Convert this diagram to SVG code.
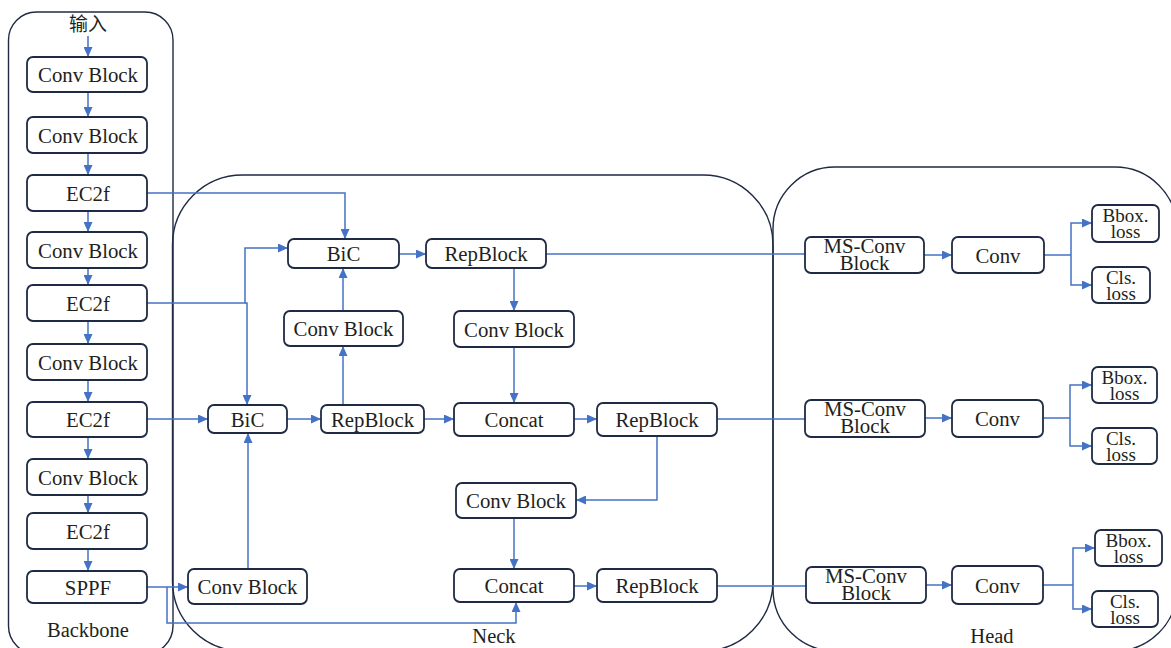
<svg xmlns="http://www.w3.org/2000/svg" width="1171" height="648" viewBox="0 0 1171 648">
<defs>
<marker id="ah" markerUnits="userSpaceOnUse" markerWidth="11" markerHeight="9" refX="10" refY="4.5" orient="auto">
<path d="M0,0 L10,4.5 L0,9 z" fill="#4472c4"/>
</marker>
<style>
.node rect{fill:#fff;stroke:#1f2a44;stroke-width:1.8}
.grp{fill:none;stroke:#1f2a44;stroke-width:1.4}
.c path{fill:none;stroke:#4472c4;stroke-width:1.5}
.c path.a{marker-end:url(#ah)}
.t2{font-size:19px}
</style>
</defs>
<rect width="1171" height="648" fill="#fff"/>
<g id="groups" font-family="'Liberation Serif', 'Times New Roman', 'Noto Sans CJK SC', serif" font-size="20.5" fill="#231f20" text-anchor="middle">
<rect class="grp" x="8.5" y="12" width="164.5" height="642" rx="28"/>
<rect class="grp" x="172.5" y="175" width="600.5" height="476" rx="70"/>
<rect class="grp" x="773" y="167" width="404" height="484" rx="62"/>
<text x="88" y="637">Backbone</text>
<text x="494" y="643">Neck</text>
<text x="992" y="643">Head</text>
<text x="88" y="31" font-size="19">输入</text>
</g>
<g class="c" id="connectors">
<path class="a" d="M88,36 V57"/>
<path class="a" d="M88,92 V117"/>
<path class="a" d="M88,153 V175"/>
<path class="a" d="M88,211 V232"/>
<path class="a" d="M88,268 V285"/>
<path class="a" d="M88,321 V344"/>
<path class="a" d="M88,380 V402"/>
<path class="a" d="M88,437 V459"/>
<path class="a" d="M88,495 V513"/>
<path class="a" d="M88,549 V571"/>
<path class="a" d="M147,193 H345 V239"/>
<path class="a" d="M147,303 H245 V248 H288"/>
<path class="a" d="M245,303 H247 V405"/>
<path class="a" d="M147,419 H208"/>
<path class="a" d="M399,254 H426"/>
<path d="M546,254 H805"/>
<path class="a" d="M514,268 V311"/>
<path class="a" d="M514,347 V403"/>
<path class="a" d="M343,311 V268"/>
<path class="a" d="M343,405 V346"/>
<path class="a" d="M287,419 H321"/>
<path class="a" d="M424,419 H454"/>
<path class="a" d="M574,419 H597"/>
<path d="M717,419 H805"/>
<path class="a" d="M657,436 V500 H576"/>
<path class="a" d="M514,518 V569"/>
<path class="a" d="M574,586 H597"/>
<path d="M717,586 H806"/>
<path class="a" d="M248,569 V433"/>
<path class="a" d="M147,587 H188"/>
<path class="a" d="M167,587 V623 H516 V602"/>
<path class="a" d="M924,255 H952"/>
<path d="M1044,255 H1071"/>
<path class="a" d="M1071,255 V223 H1092"/>
<path class="a" d="M1071,255 V285 H1092"/>
<path class="a" d="M925,418 H952"/>
<path d="M1043,418 H1070"/>
<path class="a" d="M1070,418 V385 H1092"/>
<path class="a" d="M1070,418 V446 H1092"/>
<path class="a" d="M926,585 H952"/>
<path d="M1043,585 H1073"/>
<path class="a" d="M1073,585 V548 H1095"/>
<path class="a" d="M1073,585 V609 H1092"/>
</g>
<g id="nodes" font-family="'Liberation Serif', 'Times New Roman', serif" font-size="20.8" fill="#231f20" text-anchor="middle">
<g class="node" id="b1"><rect x="27" y="57" width="120" height="35" rx="6"/><text x="88" y="81.5">Conv Block</text></g>
<g class="node" id="b2"><rect x="27" y="117" width="120" height="36" rx="6"/><text x="88" y="142.5">Conv Block</text></g>
<g class="node" id="b3"><rect x="27" y="175" width="120" height="36" rx="6"/><text x="88" y="200.5">EC2f</text></g>
<g class="node" id="b4"><rect x="27" y="232" width="120" height="36" rx="6"/><text x="88" y="257.5">Conv Block</text></g>
<g class="node" id="b5"><rect x="27" y="285" width="120" height="36" rx="6"/><text x="88" y="310.5">EC2f</text></g>
<g class="node" id="b6"><rect x="27" y="344" width="120" height="36" rx="6"/><text x="88" y="369.5">Conv Block</text></g>
<g class="node" id="b7"><rect x="27" y="402" width="120" height="35" rx="6"/><text x="88" y="426.5">EC2f</text></g>
<g class="node" id="b8"><rect x="27" y="459" width="120" height="36" rx="6"/><text x="88" y="484.5">Conv Block</text></g>
<g class="node" id="b9"><rect x="27" y="513" width="120" height="36" rx="6"/><text x="88" y="538.5">EC2f</text></g>
<g class="node" id="b10"><rect x="27" y="571" width="120" height="32" rx="6"/><text x="88" y="594.5">SPPF</text></g>
<g class="node" id="n_bic1"><rect x="288" y="239" width="111" height="29" rx="6"/><text x="343.5" y="261">BiC</text></g>
<g class="node" id="n_rep1"><rect x="426" y="239" width="120" height="29" rx="6"/><text x="486" y="260.5">RepBlock</text></g>
<g class="node" id="n_conv1"><rect x="284" y="311" width="119" height="35" rx="6"/><text x="343.5" y="336">Conv Block</text></g>
<g class="node" id="n_conv2"><rect x="454" y="311" width="120" height="36" rx="6"/><text x="514" y="336.5">Conv Block</text></g>
<g class="node" id="n_bic2"><rect x="208" y="405" width="79" height="28" rx="6"/><text x="247.5" y="426.5">BiC</text></g>
<g class="node" id="n_rep2"><rect x="321" y="405" width="103" height="28" rx="6"/><text x="372.5" y="426.5">RepBlock</text></g>
<g class="node" id="n_cat1"><rect x="454" y="403" width="120" height="33" rx="6"/><text x="514" y="426.5">Concat</text></g>
<g class="node" id="n_rep3"><rect x="597" y="403" width="120" height="33" rx="6"/><text x="657" y="426.5">RepBlock</text></g>
<g class="node" id="n_conv3"><rect x="456" y="483" width="120" height="35" rx="6"/><text x="516" y="507.5">Conv Block</text></g>
<g class="node" id="n_cat2"><rect x="454" y="569" width="120" height="33" rx="6"/><text x="514" y="592.5">Concat</text></g>
<g class="node" id="n_rep4"><rect x="597" y="569" width="120" height="33" rx="6"/><text x="657" y="592.5">RepBlock</text></g>
<g class="node" id="n_conv4"><rect x="188" y="569" width="119" height="35" rx="6"/><text x="247.5" y="594">Conv Block</text></g>
<g class="node" id="h_ms1"><rect x="805" y="237" width="119" height="36" rx="6"/><text x="864.5" y="253">MS-Conv</text><text x="864.5" y="270">Block</text></g>
<g class="node" id="h_conv1"><rect x="952" y="237" width="92" height="36" rx="6"/><text x="998" y="262.5">Conv</text></g>
<g class="node t2" id="h_bbox1"><rect x="1092" y="205" width="67" height="37" rx="6"/><text x="1125.5" y="222">Bbox.</text><text x="1125.5" y="238">loss</text></g>
<g class="node t2" id="h_cls1"><rect x="1092" y="267" width="58" height="36" rx="6"/><text x="1121" y="284">Cls.</text><text x="1121" y="300">loss</text></g>
<g class="node" id="h_ms2"><rect x="805" y="400" width="120" height="37" rx="6"/><text x="865" y="416">MS-Conv</text><text x="865" y="433">Block</text></g>
<g class="node" id="h_conv2"><rect x="952" y="400" width="91" height="37" rx="6"/><text x="997.5" y="425.5">Conv</text></g>
<g class="node t2" id="h_bbox2"><rect x="1092" y="367" width="65" height="36" rx="6"/><text x="1124.5" y="384">Bbox.</text><text x="1124.5" y="400">loss</text></g>
<g class="node t2" id="h_cls2"><rect x="1092" y="428" width="65" height="36" rx="6"/><text x="1121" y="445">Cls.</text><text x="1121" y="461">loss</text></g>
<g class="node" id="h_ms3"><rect x="806" y="567" width="120" height="36" rx="6"/><text x="866" y="583">MS-Conv</text><text x="866" y="600">Block</text></g>
<g class="node" id="h_conv3"><rect x="952" y="566" width="91" height="38" rx="6"/><text x="997.5" y="592.5">Conv</text></g>
<g class="node t2" id="h_bbox3"><rect x="1095" y="530" width="67" height="36" rx="6"/><text x="1128.5" y="547">Bbox.</text><text x="1128.5" y="563">loss</text></g>
<g class="node t2" id="h_cls3"><rect x="1092" y="591" width="66" height="36" rx="6"/><text x="1125" y="608">Cls.</text><text x="1125" y="624">loss</text></g>
</g>
</svg>
